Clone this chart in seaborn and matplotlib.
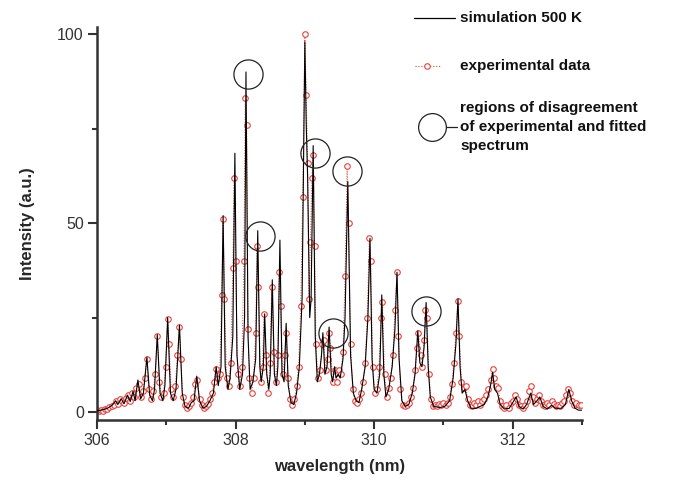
import numpy as np
import pandas as pd
import matplotlib
matplotlib.use("Agg")
import matplotlib.pyplot as plt
from matplotlib.lines import Line2D
from matplotlib.ticker import MultipleLocator
import seaborn as sns

# ---------------- data ----------------
sim_wl = [306.00, 306.08, 306.15, 306.22, 306.27, 306.30, 306.35, 306.39, 306.44, 306.48,
          306.52, 306.55, 306.59, 306.63, 306.67, 306.72, 306.76, 306.80, 306.83, 306.87,
          306.91, 306.95, 306.98, 307.02, 307.06, 307.10, 307.14, 307.19, 307.23, 307.27,
          307.32, 307.36, 307.40, 307.44, 307.48, 307.53, 307.58, 307.63, 307.68, 307.72,
          307.75, 307.79, 307.82, 307.85, 307.89, 307.92, 307.96, 307.99, 308.02, 308.06,
          308.10, 308.13, 308.15, 308.18, 308.21, 308.25, 308.29, 308.32, 308.35, 308.37,
          308.40, 308.42, 308.45, 308.48, 308.50, 308.53, 308.56, 308.59, 308.61, 308.64,
          308.67, 308.70, 308.73, 308.76, 308.80, 308.84, 308.88, 308.92, 308.96, 309.00,
          309.02, 309.04, 309.07, 309.09, 309.12, 309.15, 309.18, 309.21, 309.24, 309.26,
          309.29, 309.32, 309.35, 309.38, 309.40, 309.43, 309.45, 309.48, 309.51, 309.55,
          309.58, 309.62, 309.66, 309.70, 309.74, 309.78, 309.82, 309.87, 309.91, 309.94,
          309.97, 310.00, 310.04, 310.08, 310.11, 310.14, 310.17, 310.21, 310.26, 310.30,
          310.33, 310.36, 310.40, 310.45, 310.50, 310.55, 310.59, 310.63, 310.66, 310.69,
          310.72, 310.75, 310.78, 310.81, 310.86, 310.95, 311.02, 311.09, 311.14, 311.18,
          311.21, 311.24, 311.27, 311.31, 311.35, 311.40, 311.47, 311.53, 311.59, 311.64,
          311.68, 311.71, 311.74, 311.78, 311.82, 311.88, 311.95, 312.00, 312.05, 312.09,
          312.15, 312.20, 312.26, 312.30, 312.35, 312.39, 312.44, 312.50, 312.56, 312.62,
          312.70, 312.76, 312.81, 312.85, 312.90, 312.95, 313.00]
sim_int = [0.3, 0.6, 1.0, 1.8, 3.0, 2.0, 3.5, 2.2, 4.5, 2.8,
           5.5, 3.0, 8.5, 3.5, 5.0, 14.5, 4.5, 3.0, 6.0, 20.5,
           5.0, 3.0, 7.0, 25.0, 5.0, 3.0, 6.0, 23.0, 5.0, 1.5,
           1.0, 2.5, 3.0, 9.5, 3.0, 1.0, 1.5, 3.0, 5.0, 12.0,
           7.0, 12.0, 52.0, 12.0, 6.0, 9.0, 20.0, 68.5, 15.0, 6.0,
           10.0, 25.0, 90.0, 20.0, 6.0, 8.0, 14.0, 48.0, 12.0, 8.0,
           12.0, 26.0, 10.0, 6.0, 10.0, 35.0, 10.0, 7.0, 12.0, 45.5,
           10.0, 8.0, 23.5, 7.0, 2.5, 2.0, 5.0, 12.0, 30.0, 98.0,
           76.0, 62.0, 25.0, 30.0, 70.5, 20.0, 8.0, 10.0, 15.0, 21.0,
           10.0, 12.0, 22.5, 10.0, 8.0, 12.0, 9.0, 10.0, 9.0, 14.0,
           25.0, 61.0, 15.0, 5.0, 3.0, 2.5, 6.0, 12.0, 25.0, 46.0,
           14.0, 6.0, 5.0, 10.0, 31.0, 10.0, 4.0, 6.0, 12.0, 22.0,
           37.0, 14.0, 3.0, 1.5, 2.0, 5.0, 10.0, 21.5, 13.0, 12.0,
           17.0, 29.0, 12.0, 4.0, 1.5, 1.2, 1.5, 3.0, 9.0, 18.0,
           30.0, 12.0, 5.0, 6.0, 3.0, 1.0, 1.0, 1.5, 2.0, 4.0,
           7.0, 10.5, 6.0, 5.0, 2.0, 0.8, 1.0, 2.5, 4.0, 1.5,
           0.8, 2.0, 5.0, 2.0, 3.0, 4.0, 1.5, 0.8, 1.8, 1.0,
           1.0, 2.0, 6.0, 3.0, 1.0, 0.5, 0.5]

exp_wl = [306.00, 306.03, 306.06, 306.09, 306.12, 306.15, 306.18, 306.21, 306.24, 306.27,
          306.30, 306.33, 306.36, 306.39, 306.42, 306.45, 306.48, 306.51, 306.54, 306.57,
          306.60, 306.63, 306.66, 306.69, 306.72, 306.75, 306.78, 306.81, 306.84, 306.87,
          306.90, 306.93, 306.96, 306.99, 307.02, 307.04, 307.07, 307.10, 307.13, 307.16,
          307.19, 307.21, 307.24, 307.27, 307.30, 307.33, 307.36, 307.39, 307.42, 307.45,
          307.48, 307.51, 307.54, 307.57, 307.60, 307.63, 307.66, 307.69, 307.72, 307.74,
          307.77, 307.80, 307.82, 307.84, 307.87, 307.90, 307.93, 307.96, 307.98, 308.00,
          308.03, 308.06, 308.09, 308.12, 308.14, 308.16, 308.18, 308.20, 308.23, 308.26,
          308.29, 308.31, 308.33, 308.36, 308.39, 308.41, 308.44, 308.47, 308.50, 308.52,
          308.55, 308.58, 308.61, 308.63, 308.65, 308.68, 308.71, 308.73, 308.76, 308.79,
          308.82, 308.85, 308.88, 308.91, 308.94, 308.97, 309.00, 309.02, 309.04, 309.06,
          309.08, 309.10, 309.12, 309.14, 309.16, 309.19, 309.22, 309.25, 309.27, 309.30,
          309.33, 309.35, 309.37, 309.40, 309.43, 309.46, 309.49, 309.52, 309.55, 309.58,
          309.61, 309.63, 309.66, 309.69, 309.72, 309.75, 309.78, 309.81, 309.84, 309.87,
          309.90, 309.93, 309.95, 309.98, 310.01, 310.04, 310.07, 310.10, 310.12, 310.15,
          310.18, 310.21, 310.24, 310.27, 310.30, 310.33, 310.35, 310.38, 310.41, 310.44,
          310.47, 310.50, 310.53, 310.56, 310.59, 310.62, 310.64, 310.67, 310.69, 310.72,
          310.74, 310.76, 310.79, 310.82, 310.85, 310.88, 310.91, 310.94, 310.97, 311.00,
          311.03, 311.06, 311.09, 311.12, 311.15, 311.18, 311.21, 311.23, 311.26, 311.29,
          311.32, 311.35, 311.38, 311.41, 311.44, 311.47, 311.50, 311.53, 311.56, 311.59,
          311.62, 311.65, 311.68, 311.71, 311.73, 311.76, 311.79, 311.82, 311.85, 311.88,
          311.91, 311.94, 311.97, 312.00, 312.03, 312.06, 312.09, 312.12, 312.15, 312.18,
          312.21, 312.24, 312.26, 312.29, 312.32, 312.35, 312.38, 312.41, 312.44, 312.47,
          312.50, 312.53, 312.56, 312.59, 312.62, 312.65, 312.68, 312.71, 312.74, 312.77,
          312.80, 312.83, 312.86, 312.89, 312.92, 312.95, 312.98]
exp_int = [0.5, 0.3, 0.6, 0.4, 0.9, 0.7, 1.3, 1.6, 2.0, 3.0,
           2.2, 3.4, 2.8, 2.5, 3.8, 4.6, 3.0, 5.0, 4.0, 6.5,
           7.5, 4.0, 5.5, 9.0, 14.0, 6.0, 3.5, 5.5, 10.0, 20.0,
           8.0, 4.0, 5.0, 12.0, 24.5, 18.0, 6.0, 4.0, 7.0, 15.0,
           22.5, 14.0, 4.0, 2.0, 1.2, 1.5, 2.5, 4.0, 7.5, 8.5,
           3.5, 1.8, 1.2, 1.5, 2.2, 3.5, 5.0, 8.0, 11.5, 9.0,
           10.0, 31.0, 51.0, 30.0, 9.0, 7.0, 13.0, 38.0, 62.0, 40.0,
           10.0, 7.0, 12.0, 40.0, 83.0, 76.0, 22.0, 9.0, 5.0, 9.0,
           21.0, 44.0, 33.0, 8.0, 12.0, 26.0, 15.0, 5.0, 13.0, 33.0,
           16.0, 8.0, 15.0, 37.0, 28.0, 10.0, 15.0, 21.0, 9.0, 3.5,
           2.0, 3.5, 7.0, 12.0, 28.0, 57.0, 100.0, 84.0, 66.0, 30.0,
           45.0, 62.0, 68.0, 44.0, 18.0, 9.0, 11.0, 18.0, 19.0, 11.0,
           14.0, 21.0, 17.0, 8.0, 11.0, 8.0, 11.0, 10.0, 16.0, 36.0,
           65.0, 50.0, 18.0, 6.0, 3.0, 2.5, 3.5, 5.0, 8.0, 13.0,
           25.0, 46.0, 40.0, 12.0, 5.0, 6.0, 12.0, 25.0, 29.0, 10.0,
           4.0, 6.5, 9.0, 15.0, 27.0, 37.0, 20.0, 6.0, 2.0, 1.5,
           1.8, 2.5, 4.0, 6.5, 11.0, 17.0, 21.0, 15.0, 12.0, 19.0,
           27.0, 25.0, 10.0, 3.5, 1.5, 2.0, 1.5, 2.2, 1.8, 2.5,
           2.0, 2.5, 4.0, 7.5, 13.0, 21.0, 29.5, 20.0, 8.0, 6.5,
           7.0, 3.5, 2.0, 1.5, 2.5, 1.8, 2.8, 2.0, 3.0, 3.5,
           4.5, 6.0, 8.5, 11.5, 9.0, 7.0, 6.5, 3.0, 1.5, 1.0,
           2.0, 1.2, 2.5, 3.0, 4.5, 3.5, 2.0, 1.5, 1.0, 2.0,
           3.0, 5.5, 7.0, 4.0, 2.5, 3.5, 4.5, 3.0, 2.0, 1.5,
           2.5, 2.0, 3.0, 2.2, 1.5, 2.0, 1.5, 2.5, 3.0, 4.5,
           6.0, 5.0, 3.0, 2.0, 2.5, 1.8, 2.0]

# regions of disagreement (circle centres)
circle_wl = [308.18, 308.35, 309.15, 309.61, 309.41, 310.75]
circle_int = [89.4, 46.6, 68.5, 63.8, 20.9, 26.7]

x_ticks = [306, 308, 310, 312]
y_ticks = [0, 50, 100]

legend_labels = ["simulation 500 K", "experimental data",
                 "regions of disagreement\nof experimental and fitted\nspectrum"]
x_label = "wavelength (nm)"
y_label = "Intensity (a.u.)"

# ---------------- plot ----------------
sns.set_theme(style="ticks")
plt.rcParams['font.family'] = ['Liberation Sans', 'DejaVu Sans']

RED = "#e8403a"
AX_COL = "#333333"

fig = plt.figure(figsize=(6.89, 4.80), dpi=100)
ax = fig.add_axes([97/689, 1-420/480, (582-97)/689, (420-27)/480])

sim_df = pd.DataFrame({"wl": sim_wl, "I": sim_int})
exp_df = pd.DataFrame({"wl": exp_wl, "I": exp_int})

sns.lineplot(data=exp_df, x="wl", y="I", ax=ax, sort=False, estimator=None,
             color=RED, lw=0.7, linestyle=":", marker="o", markersize=4.0,
             markerfacecolor="white", markeredgecolor=RED, markeredgewidth=0.8,
             zorder=2)
sns.lineplot(data=sim_df, x="wl", y="I", ax=ax, sort=False, estimator=None,
             color="black", lw=0.8, zorder=3)
ax.plot(circle_wl, circle_int, linestyle="none", marker="o", markersize=21,
        markerfacecolor="none", markeredgecolor="#222222", markeredgewidth=0.9,
        zorder=4)

ax.set_xlim(306, 313)
ax.set_ylim(-2.1, 101.9)
ax.set_xticks(x_ticks)
ax.set_yticks(y_ticks)
ax.xaxis.set_minor_locator(MultipleLocator(1))
ax.yaxis.set_minor_locator(MultipleLocator(25))
ax.tick_params(axis="both", which="major", length=6.5, width=1.5, color=AX_COL,
               labelsize=11.5, labelcolor="#333333", pad=3)
ax.tick_params(axis="both", which="minor", length=3.5, width=1.5, color=AX_COL)
for s in ["top", "right"]:
    ax.spines[s].set_visible(False)
for s in ["left", "bottom"]:
    ax.spines[s].set_linewidth(1.8)
    ax.spines[s].set_color(AX_COL)

ax.set_xlabel(x_label, fontsize=12, fontweight="bold", labelpad=8)
ax.set_ylabel(y_label, fontsize=12, fontweight="bold", labelpad=16)

# legend (manual, outside plot at top right)
fig.add_artist(Line2D([414/689, 455/689], [1-18/480, 1-18/480], color="black",
                      lw=0.9, transform=fig.transFigure))
fig.text(460/689, 1-18/480, legend_labels[0], fontsize=11, fontweight="bold",
         va="center", ha="left", color="#111111")
fig.add_artist(Line2D([415/689, 440/689], [1-66/480, 1-66/480], color=RED,
                      lw=0.8, linestyle=":", transform=fig.transFigure))
fig.add_artist(Line2D([427/689], [1-66/480], marker="o", markersize=4.0,
                      markerfacecolor="white", markeredgecolor=RED,
                      markeredgewidth=0.8, linestyle="none",
                      transform=fig.transFigure))
fig.text(460/689, 1-66/480, legend_labels[1], fontsize=11, fontweight="bold",
         va="center", ha="left", color="#111111")
fig.add_artist(Line2D([432/689], [1-127/480], marker="o", markersize=20,
                      markerfacecolor="none", markeredgecolor="#222222",
                      markeredgewidth=0.9, linestyle="none",
                      transform=fig.transFigure))
fig.add_artist(Line2D([446/689, 457/689], [1-127/480, 1-127/480], color="#222222",
                      lw=0.9, transform=fig.transFigure))
fig.text(460/689, 1-127/480, legend_labels[2], fontsize=11, fontweight="bold",
         va="center", ha="left", color="#111111", linespacing=1.45)

fig.savefig("out.png", dpi=100)
